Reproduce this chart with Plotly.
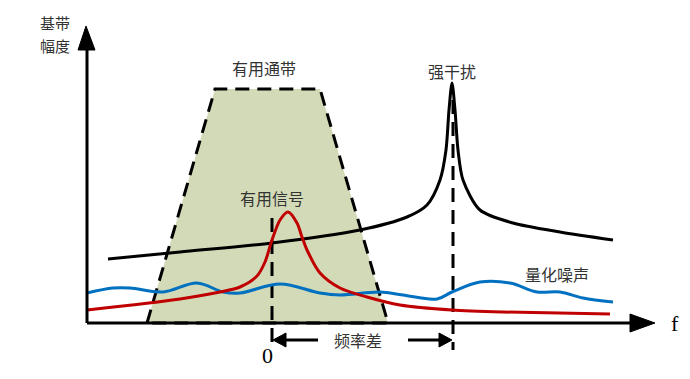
import plotly.graph_objects as go

# ---- data (in picture units: x right, y down) ----
passband_x = [147, 215, 320, 388, 147]
passband_y = [323, 89, 89, 323, 323]

interf_x = [108, 180, 272, 360, 407, 427, 440, 446, 449, 452, 455, 458, 463, 480, 513, 560, 613]
interf_y = [259, 252, 243, 230, 217, 205, 180, 150, 110, 83, 110, 150, 180, 210, 223, 232, 240]

signal_x = [87, 180, 220, 240, 257, 265, 272, 280, 288, 297, 302, 307, 320, 340, 367, 400, 452, 503, 610]
signal_y = [310, 299, 292, 287, 276, 262, 240, 220, 212, 223, 237, 250, 273, 288, 297, 305, 310, 312, 314]

noise_x = [87, 113, 130, 163, 197, 223, 240, 280, 320, 340, 380, 403, 437, 452, 480, 510, 537, 560, 583, 613]
noise_y = [293, 288, 288, 292, 283, 292, 293, 284, 293, 295, 292, 295, 299, 292, 282, 283, 292, 292, 298, 302]

marker_zero_x = [272, 272]
marker_zero_y = [218, 350]
marker_interf_x = [453, 453]
marker_interf_y = [100, 350]

labels = {
    "passband": "有用通带",
    "interf": "强干扰",
    "signal": "有用信号",
    "noise": "量化噪声",
    "freqdiff": "频率差",
    "yaxis1": "基带",
    "yaxis2": "幅度",
    "xaxis": "f",
    "zero": "0",
}

W, H = 690, 379
FILL = "#d3dab7"
RED = "#c00000"
BLUE = "#0070c0"
CJK = "Noto Sans CJK SC"
TXT = "#333333"

fig = go.Figure()

# passband trapezoid
fig.add_trace(go.Scatter(x=passband_x, y=passband_y, mode="lines", fill="toself",
                         fillcolor=FILL, line=dict(color="black", width=3, dash="14px,8px"),
                         hoverinfo="skip"))
# dashed markers
for mx, my in [(marker_zero_x, marker_zero_y), (marker_interf_x, marker_interf_y)]:
    fig.add_trace(go.Scatter(x=mx, y=my, mode="lines",
                             line=dict(color="black", width=3, dash="14px,8px"), hoverinfo="skip"))

fig.add_trace(go.Scatter(x=interf_x, y=interf_y, mode="lines", line_shape="spline",
                         line=dict(color="black", width=3, smoothing=0.8), hoverinfo="skip"))
fig.add_trace(go.Scatter(x=noise_x, y=noise_y, mode="lines", line_shape="spline",
                         line=dict(color=BLUE, width=3, smoothing=1.0), hoverinfo="skip"))
fig.add_trace(go.Scatter(x=signal_x, y=signal_y, mode="lines", line_shape="spline",
                         line=dict(color=RED, width=3, smoothing=0.8), hoverinfo="skip"))

shapes = [
    # axes
    dict(type="line", x0=87, y0=323, x1=87, y1=48, line=dict(color="black", width=3)),
    dict(type="line", x0=87, y0=323, x1=632, y1=323, line=dict(color="black", width=3)),
    dict(type="path", path="M 86 26 L 78 50 L 95 50 Z", fillcolor="black", line=dict(color="black", width=1)),
    dict(type="path", path="M 655 323 L 630 314 L 630 332 Z", fillcolor="black", line=dict(color="black", width=1)),
    # frequency-difference arrows
    dict(type="line", x0=284, y0=340, x1=318, y1=340, line=dict(color="black", width=3)),
    dict(type="path", path="M 273 340 L 286 333 L 286 347 Z", fillcolor="black", line=dict(color="black", width=1)),
    dict(type="line", x0=408, y0=340, x1=442, y1=340, line=dict(color="black", width=3)),
    dict(type="path", path="M 452 340 L 439 333 L 439 347 Z", fillcolor="black", line=dict(color="black", width=1)),
]

def ann(text, x, y, size=16, family=CJK, color=TXT):
    return dict(text=text, x=x, y=y, xref="x", yref="y", showarrow=False,
                font=dict(family=family, size=size, color=color), xanchor="center", yanchor="middle")

annotations = [
    ann(labels["passband"], 264, 68),
    ann(labels["interf"], 452, 71),
    ann(labels["signal"], 272, 198),
    ann(labels["noise"], 557, 274),
    ann(labels["freqdiff"], 358, 340),
    ann(labels["yaxis1"], 55, 22, size=15),
    ann(labels["yaxis2"], 55, 45, size=15),
    ann(labels["xaxis"], 675, 323, size=22, family="Liberation Serif", color="black"),
    ann(labels["zero"], 267, 355, size=22, family="Liberation Serif", color="black"),
]

fig.update_layout(
    width=W, height=H, margin=dict(l=0, r=0, t=0, b=0),
    paper_bgcolor="white", plot_bgcolor="white", showlegend=False,
    xaxis=dict(range=[0, W], visible=False, fixedrange=True),
    yaxis=dict(range=[H, 0], visible=False, fixedrange=True),
    shapes=shapes, annotations=annotations,
)

fig.write_html("out.html", config={"displayModeBar": False},
               post_script="document.body.style.margin='0';document.body.style.overflow='hidden';")
